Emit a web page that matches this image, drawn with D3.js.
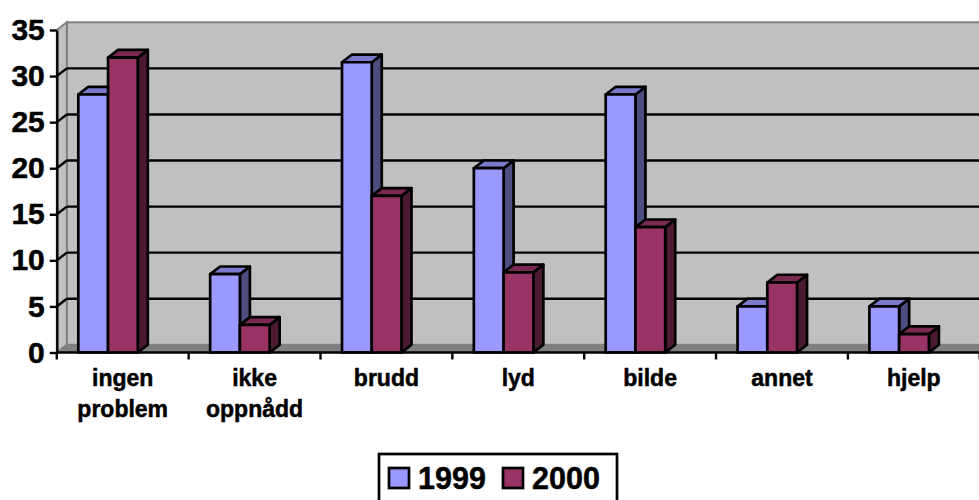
<!DOCTYPE html>
<html>
<head>
<meta charset="utf-8">
<script src="https://cdn.jsdelivr.net/npm/d3@7"></script>
<style>
	html, body { margin: 0; padding: 0; background: #fff; overflow: hidden; }
	text { font-family: "Liberation Sans", Arial, sans-serif; font-weight: bold; fill: #000; stroke: #000; stroke-width: 0.5px; }
</style>
</head>
<body>
<div id="chart"></div>
<script>
const categories = [["ingen", "problem"], ["ikke", "oppnådd"], ["brudd"], ["lyd"], ["bilde"], ["annet"], ["hjelp"]];
const years = ["1999", "2000"];
const values1999 = [28, 8.5, 31.5, 20, 28, 5, 5];
const values2000 = [32, 3, 17, 8.7, 13.6, 7.6, 2];
const yTicks = [0, 5, 10, 15, 20, 25, 30, 35];

const width = 979;
const height = 500;
const marginLeft = 56.8;
const plotRight = 981;
const plotBottom = 352.5;
const plotTop = 30;
const depthX = 10;
const depthY = 7.7;

const colors = { 1999: "#9999ff", 2000: "#993366" };
const sideColors = { 1999: "#4d4d80", 2000: "#4d1a33" };
const topColors = { 1999: "#7a7acc", 2000: "#7a2952" };

const svg = d3.select("#chart").append("svg")
	.attr("width", width)
	.attr("height", height)
	.style("display", "block");

const xScale = d3.scaleBand()
	.domain(d3.range(categories.length))
	.range([marginLeft, marginLeft + 131.85 * categories.length]);
const yearScale = d3.scaleBand()
	.domain(years)
	.range([21.5, 81]);
const yScale = d3.scaleLinear()
	.domain([0, 35])
	.range([plotBottom, plotTop]);

// walls
const wallLeft = marginLeft + depthX;
svg.append("rect")
	.attr("x", wallLeft)
	.attr("y", plotTop - depthY)
	.attr("width", plotRight - wallLeft)
	.attr("height", plotBottom - plotTop)
	.attr("fill", "#c0c0c0")
	.attr("stroke", "#808080")
	.attr("stroke-width", 2);
svg.append("polygon")
	.attr("points", [[marginLeft, plotTop], [wallLeft, plotTop - depthY], [wallLeft, plotBottom - depthY], [marginLeft, plotBottom]].join(" "))
	.attr("fill", "#c0c0c0")
	.attr("stroke", "#808080")
	.attr("stroke-width", 2);
svg.append("polygon")
	.attr("points", [[marginLeft, plotBottom], [wallLeft, plotBottom - depthY], [plotRight, plotBottom - depthY], [plotRight, plotBottom]].join(" "))
	.attr("fill", "#808080");

// gridlines on the back wall and the skew on the side wall
const grid = svg.append("g").attr("stroke", "#000").attr("stroke-width", 2.4);
grid.selectAll("line.back")
	.data(yTicks.filter((d) => d > 0 && d < 35))
	.enter().append("line")
	.attr("class", "back")
	.attr("x1", wallLeft)
	.attr("x2", plotRight)
	.attr("y1", (d) => yScale(d) - depthY)
	.attr("y2", (d) => yScale(d) - depthY);
grid.selectAll("line.skew")
	.data(yTicks.filter((d) => d > 0 && d < 35))
	.enter().append("line")
	.attr("class", "skew")
	.attr("x1", marginLeft)
	.attr("x2", wallLeft)
	.attr("y1", (d) => yScale(d))
	.attr("y2", (d) => yScale(d) - depthY);

// bars
const barGroups = svg.append("g")
	.attr("stroke", "#000")
	.attr("stroke-width", 2.7)
	.attr("stroke-linejoin", "round");

function drawBar(year, value, catIndex) {
	const x0 = xScale(catIndex) + yearScale(year);
	const x1 = x0 + yearScale.bandwidth();
	const yTop = yScale(value);
	barGroups.append("polygon")
		.attr("points", [[x1, yTop], [x1 + depthX, yTop - depthY], [x1 + depthX, plotBottom - depthY], [x1, plotBottom]].join(" "))
		.attr("fill", sideColors[year]);
	barGroups.append("polygon")
		.attr("points", [[x0, yTop], [x0 + depthX, yTop - depthY], [x1 + depthX, yTop - depthY], [x1, yTop]].join(" "))
		.attr("fill", topColors[year]);
	barGroups.append("rect")
		.attr("x", x0)
		.attr("y", yTop)
		.attr("width", x1 - x0)
		.attr("height", plotBottom - yTop)
		.attr("fill", colors[year]);
}

categories.forEach((c, i) => {
	drawBar("1999", values1999[i], i);
	drawBar("2000", values2000[i], i);
});

// axes
const yAxis = d3.axisLeft(yScale)
	.tickValues(yTicks)
	.tickSize(7)
	.tickSizeOuter(0)
	.tickPadding(5);
const yAxisG = svg.append("g")
	.attr("transform", `translate(${marginLeft},0)`)
	.call(yAxis);
yAxisG.select(".domain").attr("stroke", "#000").attr("stroke-width", 2.4);
yAxisG.selectAll(".tick line").attr("stroke", "#000").attr("stroke-width", 2.4);
yAxisG.selectAll("text")
	.style("font-size", "30px")
	.attr("fill", "#000");

const xTicks = d3.range(categories.length + 1).map((i) => marginLeft + i * xScale.bandwidth());
svg.append("line")
	.attr("x1", marginLeft)
	.attr("x2", plotRight)
	.attr("y1", plotBottom)
	.attr("y2", plotBottom)
	.attr("stroke", "#000")
	.attr("stroke-width", 2.4);
svg.append("g").selectAll("line")
	.data(xTicks)
	.enter().append("line")
	.attr("x1", (d) => d)
	.attr("x2", (d) => d)
	.attr("y1", plotBottom)
	.attr("y2", plotBottom + 7)
	.attr("stroke", "#000")
	.attr("stroke-width", 2.4);

const labels = svg.append("g")
	.attr("text-anchor", "middle")
	.style("font-size", "23px");
categories.forEach((lines, i) => {
	lines.forEach((line, j) => {
		labels.append("text")
			.attr("x", xScale(i) + xScale.bandwidth() / 2)
			.attr("y", 386 + j * 31)
			.text(line);
	});
});

// legend
const legend = svg.append("g");
legend.append("rect")
	.attr("x", 379)
	.attr("y", 454)
	.attr("width", 238)
	.attr("height", 60)
	.attr("fill", "#fff")
	.attr("stroke", "#000")
	.attr("stroke-width", 2.7);
const legendX = d3.scaleOrdinal().domain(years).range([389, 503]);
years.forEach((year) => {
	legend.append("rect")
		.attr("x", legendX(year))
		.attr("y", 468)
		.attr("width", 20)
		.attr("height", 20)
		.attr("fill", colors[year])
		.attr("stroke", "#000")
		.attr("stroke-width", 2.7);
	legend.append("text")
		.attr("x", legendX(year) + 29)
		.attr("y", 489)
		.style("font-size", "30.5px")
		.text(year);
});
</script>
</body>
</html>
